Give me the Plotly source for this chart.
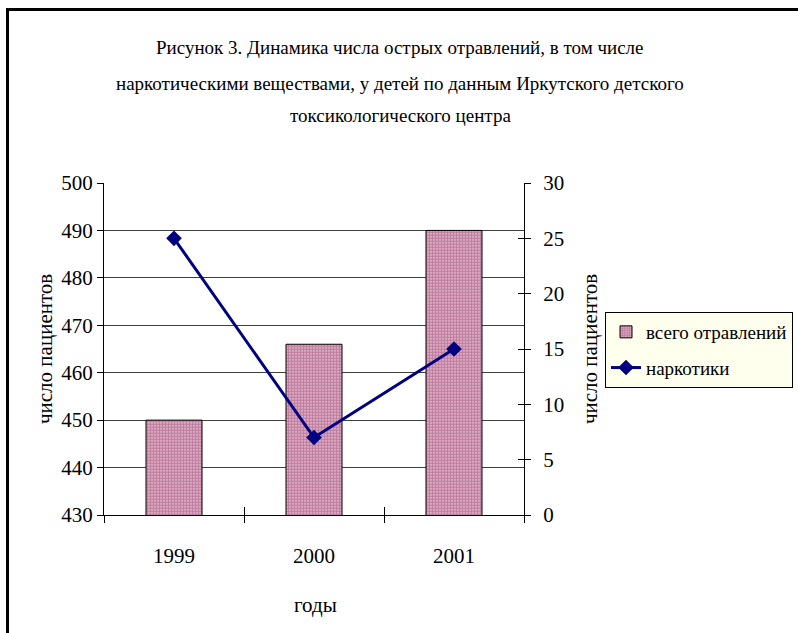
import plotly.graph_objects as go

# Data
years = ["1999", "2000", "2001"]
total_poisonings = [450, 466, 490]   # всего отравлений (left axis)
narcotics = [25, 7, 15]              # наркотики (right axis)

title_lines = [
    "Рисунок 3. Динамика числа острых отравлений, в том числе",
    "наркотическими веществами, у детей по данным Иркутского детского",
    "токсикологического центра",
]

FONT = "Liberation Serif"

# plot-area geometry in pixels
FW, FH = 798, 633
L, R, T, B = 104, 524, 183, 515
W, H = R - L, B - T


def px_x(px):
    return (px - L) / W


def px_y(py):
    return (B - py) / H


fig = go.Figure()

fig.add_trace(go.Bar(
    x=years, y=total_poisonings, name="всего отравлений",
    width=0.4, legendgroup="a",
    marker=dict(
        color="#dcb3c8",
        line=dict(color="black", width=1),
        pattern=dict(shape=".", fgcolor="#993366", bgcolor="#e6c4d5",
                     size=3, solidity=0.7),
    ),
    xaxis="x", yaxis="y",
))

fig.add_trace(go.Scatter(
    x=years, y=narcotics, name="наркотики", legendgroup="b",
    mode="lines+markers",
    line=dict(color="#000080", width=3),
    marker=dict(symbol="diamond", size=12, color="#000080"),
    xaxis="x", yaxis="y2",
))

# invisible helper trace carrying the inner half of the crossing ticks
fig.add_trace(go.Scatter(
    x=years, y=narcotics, mode="lines", line=dict(width=0),
    opacity=0, showlegend=False, hoverinfo="skip",
    xaxis="x2", yaxis="y3",
))

axis_font = dict(family=FONT, size=21, color="black")

fig.update_layout(
    width=FW, height=FH,
    margin=dict(l=L, r=FW - R, t=T, b=FH - B),
    paper_bgcolor="white", plot_bgcolor="white",
    font=dict(family=FONT, color="black"),
    showlegend=True,
    legend=dict(
        xref="container", yref="container",
        x=605 / FW, y=1 - 312 / FH,
        xanchor="left", yanchor="top",
        bgcolor="#ffffee", bordercolor="black", borderwidth=1,
        font=dict(family=FONT, size=19, color="black"),
        tracegroupgap=8, itemwidth=30,
    ),
    xaxis=dict(
        type="category", range=[-0.5, 2.5],
        tickson="boundaries", ticks="outside", ticklen=7, tickcolor="black",
        showline=True, linecolor="black", linewidth=1,
        showgrid=False, tickfont=axis_font, ticklabelstandoff=22,
    ),
    xaxis2=dict(
        type="category", range=[-0.5, 2.5], overlaying="x",
        tickson="boundaries", ticks="inside", ticklen=8, tickcolor="black",
        showticklabels=False, showgrid=False, showline=False,
    ),
    yaxis=dict(
        range=[430, 500], dtick=10, tick0=430,
        ticks="outside", ticklen=6, tickcolor="black",
        showline=True, linecolor="black", linewidth=1,
        showgrid=True, gridcolor="#404040", gridwidth=1,
        zeroline=False, tickfont=axis_font,
    ),
    yaxis2=dict(
        range=[0, 30], dtick=5, overlaying="y", side="right",
        ticks="outside", ticklen=6, tickcolor="black",
        showline=True, linecolor="black", linewidth=1,
        showgrid=False, zeroline=False, tickfont=axis_font,
        ticklabelstandoff=8,
    ),
    yaxis3=dict(
        range=[0, 30], dtick=5, overlaying="y", side="right", anchor="x",
        ticks="inside", ticklen=6, tickcolor="black",
        showticklabels=False, showgrid=False, showline=False, zeroline=False,
    ),
)

# Figure title, three centred lines
for txt, ypx in zip(title_lines, [47, 83, 116]):
    fig.add_annotation(
        text=txt, xref="paper", yref="paper",
        x=px_x(400), y=px_y(ypx),
        xanchor="center", yanchor="middle", showarrow=False,
        font=dict(family=FONT, size=19, color="black"),
    )

# Axis titles
for xpx in (45, 590):
    fig.add_annotation(text="число пациентов", xref="paper", yref="paper",
                       x=px_x(xpx), y=0.5, textangle=-90,
                       xanchor="center", yanchor="middle", showarrow=False,
                       font=dict(family=FONT, size=21, color="black"))
fig.add_annotation(text="годы", xref="paper", yref="paper",
                   x=px_x(315), y=px_y(605),
                   xanchor="center", yanchor="middle", showarrow=False,
                   font=dict(family=FONT, size=21, color="black"))

# Frame around the chart (left and top edges visible)
fig.add_shape(type="rect", xref="paper", yref="paper",
              x0=px_x(7.5), x1=2.0,
              y0=-1.0, y1=px_y(9.5),
              line=dict(color="black", width=3), fillcolor="rgba(0,0,0,0)",
              layer="above")

fig.write_html("out.html")
